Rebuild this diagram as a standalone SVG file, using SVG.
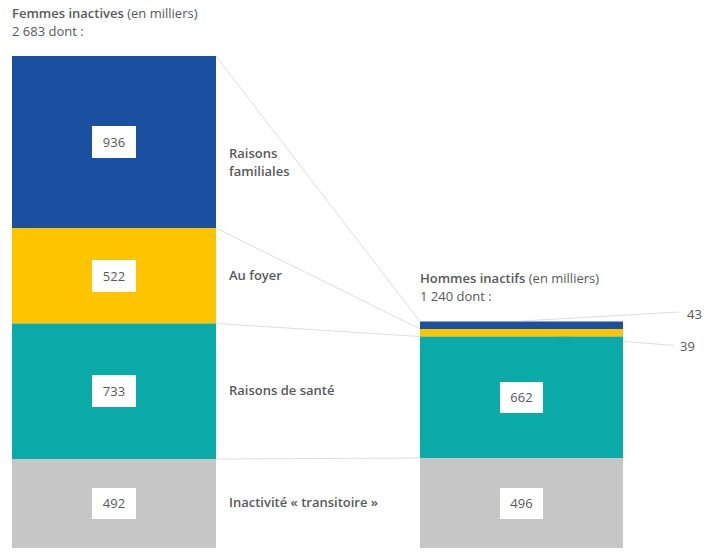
<svg xmlns="http://www.w3.org/2000/svg" width="710" height="555" viewBox="0 0 710 555">
<style>
text{font-family:"Open Sans","Noto Sans","DejaVu Sans",sans-serif;fill:#595959}
.t{font-size:13px}
.b{font-weight:600}
.lab{font-size:13px;font-weight:600}
.val{font-size:13px;text-anchor:middle}
.box{fill:#ffffff}
.c{stroke:#d4d4d4;stroke-width:0.8;fill:none}
.blue{fill:#1b4f9f}.yel{fill:#ffc400}.teal{fill:#0aaaa9}.grey{fill:#c6c6c6}
</style>
<rect width="710" height="555" fill="#ffffff"/>
<g id="connectors">
<line class="c" x1="216" y1="56" x2="420" y2="321.5"/>
<line class="c" x1="216" y1="228" x2="420" y2="329"/>
<line class="c" x1="216" y1="323.5" x2="420" y2="336.5"/>
<line class="c" x1="216" y1="459" x2="420" y2="458"/>
<line class="c" x1="521" y1="321" x2="679" y2="312"/>
<line class="c" x1="521" y1="333" x2="674" y2="345.5"/>
</g>
<g id="titre-femmes">
<text class="t" x="12" y="18"><tspan class="b">Femmes inactives</tspan> (en milliers)</text>
<text class="t" x="12" y="36">2 683 dont :</text>
</g>
<g id="titre-hommes">
<text class="t" x="420" y="283"><tspan class="b">Hommes inactifs</tspan> (en milliers)</text>
<text class="t" x="420" y="301">1 240 dont :</text>
</g>
<g id="f-familiales">
<rect class="blue" x="12" y="56" width="204" height="172"/>
<rect class="box" x="92" y="126" width="44" height="32"/>
<text class="val" x="114" y="146.5">936</text>
<text class="lab" x="229" y="158">Raisons</text>
<text class="lab" x="229" y="176">familiales</text>
</g>
<g id="f-foyer">
<rect class="yel" x="12" y="228" width="204" height="95.5"/>
<rect class="box" x="92" y="260" width="44" height="32"/>
<text class="val" x="114" y="280.5">522</text>
<text class="lab" x="229" y="280">Au foyer</text>
</g>
<g id="f-sante">
<rect class="teal" x="12" y="323.5" width="204" height="135.5"/>
<rect class="box" x="92" y="375" width="44" height="32"/>
<text class="val" x="114" y="395.5">733</text>
<text class="lab" x="229" y="395">Raisons de santé</text>
</g>
<g id="f-transitoire">
<rect class="grey" x="12" y="459" width="204" height="89"/>
<rect class="box" x="92" y="488" width="44" height="31"/>
<text class="val" x="114" y="508">492</text>
<text class="lab" x="229" y="507">Inactivité « transitoire »</text>
</g>
<g id="h-familiales">
<rect class="blue" x="420" y="321.5" width="203" height="7.5"/>
<text class="t" x="687" y="319">43</text>
</g>
<g id="h-foyer">
<rect class="yel" x="420" y="329" width="203" height="7.5"/>
<text class="t" x="680" y="351">39</text>
</g>
<g id="h-sante">
<rect class="teal" x="420" y="336.5" width="203" height="121.5"/>
<rect class="box" x="500" y="382" width="43" height="31"/>
<text class="val" x="521.5" y="402">662</text>
</g>
<g id="h-transitoire">
<rect class="grey" x="420" y="458" width="203" height="90"/>
<rect class="box" x="500" y="488" width="43" height="31"/>
<text class="val" x="521.5" y="508">496</text>
</g>
</svg>
